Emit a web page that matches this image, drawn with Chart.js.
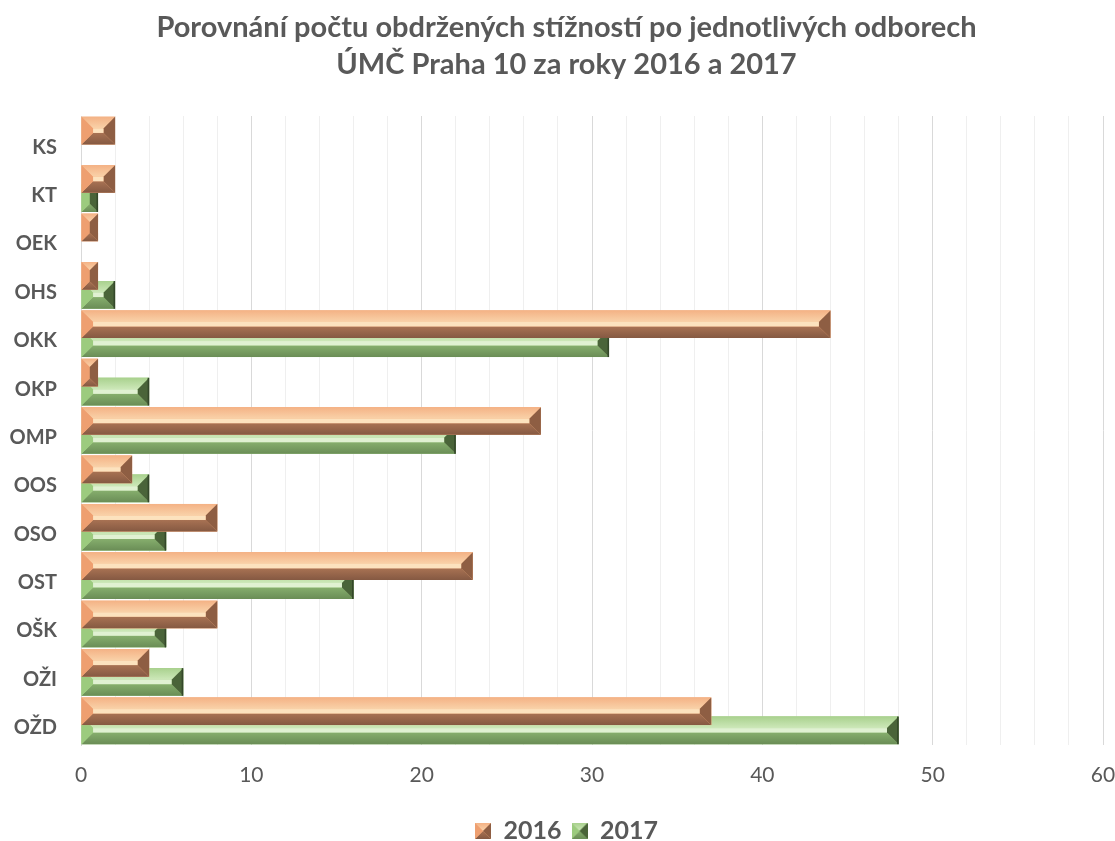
<!DOCTYPE html>
<html>
<head>
<meta charset="utf-8">
<title>Stížnosti po odborech 2016 a 2017</title>
<script src="https://cdn.jsdelivr.net/npm/chart.js@4.4.1/dist/chart.umd.min.js"></script>
<style>
  html, body { margin: 0; padding: 0; background: #ffffff; }
  #wrap { width: 1115px; height: 841px; }
</style>
</head>
<body>
<div id="wrap"><canvas id="chart" width="1115" height="841"></canvas></div>
<script>
// Departments (odbory) of ÚMČ Praha 10
const categories = ['KS', 'KT', 'OEK', 'OHS', 'OKK', 'OKP', 'OMP', 'OOS', 'OSO', 'OST', 'OŠK', 'OŽI', 'OŽD'];

// Number of complaints received per department
const values2016 = [2, 2, 1, 1, 44, 1, 27, 3, 8, 23, 8, 4, 37];
const values2017 = [0, 1, 0, 2, 31, 4, 22, 4, 5, 16, 5, 6, 48];

const seriesNames = ['2016', '2017'];
const titleLines = [
  'Porovnání počtu obdržených stížností po jednotlivých odborech',
  'ÚMČ Praha 10 za roky 2016 a 2017'
];

// Value axis: labelled every 10, light gridlines every 2
const axisMin = 0;
const axisMax = 60;
const majorStep = 10;
const minorStep = 2;

const TEXT = '#595959';
const FONT = 'Lato, "Open Sans", "DejaVu Sans", sans-serif';

// Bevel colours for each series (facets of a pyramid-cut bar)
const PALETTES = [
  { base: '#F4B183', top: ['#F4B285', '#F9D2A9'], ridge: '#FCE2BE',
    bottom: ['#A87253', '#855942'], left: '#EE9F70', right: '#8E5E43', edge: null },
  { base: '#A9D18E', top: ['#A9D18E', '#CDE8B9'], ridge: '#E0F1D2',
    bottom: ['#86AE6D', '#6A8D56'], left: '#9CCB7E', right: '#4A6439', edge: '#34472A' }
];

function poly(ctx, pts, fill) {
  ctx.beginPath();
  ctx.moveTo(pts[0][0], pts[0][1]);
  for (let i = 1; i < pts.length; i++) ctx.lineTo(pts[i][0], pts[i][1]);
  ctx.closePath();
  ctx.fillStyle = fill;
  ctx.fill();
}

// Paints a bevelled bar inside the rectangle [x0,x1] x [yt,yb]
function drawBevelBar(ctx, x0, x1, yt, yb, pal, depthRatio) {
  const w = x1 - x0, h = yb - yt;
  if (w < 0.5 || h < 0.5) return;
  const d = Math.min(h * depthRatio, w / 2);
  const xl = x0 + d, xr = x1 - d, it = yt + d, ib = yb - d;

  ctx.fillStyle = pal.base;
  ctx.fillRect(x0, yt, w, h);

  let g = ctx.createLinearGradient(0, yt, 0, it);
  g.addColorStop(0, pal.top[0]);
  g.addColorStop(1, pal.top[1]);
  poly(ctx, [[x0, yt], [x1, yt], [xr, it], [xl, it]], g);

  g = ctx.createLinearGradient(0, ib, 0, yb);
  g.addColorStop(0, pal.bottom[0]);
  g.addColorStop(1, pal.bottom[1]);
  poly(ctx, [[x0, yb], [x1, yb], [xr, ib], [xl, ib]], g);

  poly(ctx, [[x0, yt], [xl, it], [xl, ib], [x0, yb]], pal.left);
  poly(ctx, [[x1, yt], [xr, it], [xr, ib], [x1, yb]], pal.right);

  if (xr > xl && ib > it) {
    ctx.fillStyle = pal.ridge;
    ctx.fillRect(xl, it, xr - xl, ib - it);
  }
  if (pal.edge) {
    ctx.fillStyle = pal.edge;
    ctx.fillRect(x1 - 1.5, yt, 1.5, h);
  }
}

// Overlays the bevel on every bar element once its dataset has been drawn
const bevelPlugin = {
  id: 'bevelBars',
  afterDatasetDraw(chart, args) {
    const ctx = chart.ctx;
    const pal = PALETTES[args.index];
    ctx.save();
    args.meta.data.forEach(el => {
      const p = el.getProps(['x', 'y', 'base', 'height'], true);
      const x0 = Math.min(p.base, p.x);
      const x1 = Math.max(p.base, p.x);
      drawBevelBar(ctx, x0, x1, p.y - p.height / 2, p.y + p.height / 2, pal, 0.42);
    });
    ctx.restore();
  }
};

// Small bevelled squares used as legend markers
function legendIcon(pal) {
  const c = document.createElement('canvas');
  c.width = 16; c.height = 16;
  drawBevelBar(c.getContext('2d'), 0, 16, 0, 16, Object.assign({}, pal, { edge: null }), 0.5);
  return c;
}

function build() {
  const icons = PALETTES.map(legendIcon);

  new Chart(document.getElementById('chart'), {
    type: 'bar',
    data: {
      labels: categories,
      datasets: [
        { label: seriesNames[0], data: values2016, backgroundColor: PALETTES[0].base,
          borderWidth: 0, categoryPercentage: 0.787, barPercentage: 1.45 },
        { label: seriesNames[1], data: values2017, backgroundColor: PALETTES[1].base,
          borderWidth: 0, categoryPercentage: 0.787, barPercentage: 1.45 }
      ]
    },
    options: {
      indexAxis: 'y',
      responsive: false,
      animation: false,
      devicePixelRatio: 1,
      layout: { padding: { left: 0, right: -18, top: 0, bottom: -12.5 } },
      plugins: {
        title: {
          display: true,
          text: titleLines,
          color: TEXT,
          font: { family: FONT, size: 29, weight: 'bold', lineHeight: '37px' },
          padding: { top: 9.5, bottom: 32.5 }
        },
        legend: {
          position: 'bottom',
          labels: {
            usePointStyle: true,
            boxWidth: 16,
            boxHeight: 16,
            padding: 10,
            color: TEXT,
            font: { family: FONT, size: 25, weight: 'bold' },
            generateLabels(chart) {
              const items = Chart.defaults.plugins.legend.labels.generateLabels(chart);
              items.forEach((it, i) => { it.pointStyle = icons[i]; });
              return items;
            }
          }
        },
        tooltip: { enabled: false }
      },
      scales: {
        x: {
          type: 'linear',
          position: 'bottom',
          min: axisMin,
          max: axisMax,
          grid: {
            drawTicks: false,
            lineWidth: 1,
            color: c => (c.tick && c.tick.value % majorStep === 0) ? '#D9D9D9' : '#EFEFEF'
          },
          border: { display: false },
          ticks: {
            stepSize: minorStep,
            autoSkip: false,
            maxRotation: 0,
            padding: 18,
            color: TEXT,
            font: { family: FONT, size: 21 },
            callback: v => (v % majorStep === 0 ? String(v) : '')
          },
          afterFit(scale) {
            scale.height = 63.5;
            scale.paddingRight = 12;
            scale.paddingLeft = 6;
          }
        },
        y: {
          type: 'category',
          grid: { display: false, drawTicks: false },
          border: { display: true, color: '#D9D9D9', width: 1 },
          ticks: {
            autoSkip: false,
            padding: 24,
            labelOffset: 7,
            color: TEXT,
            font: { family: FONT, size: 20, weight: 'bold' }
          },
          afterFit(scale) { scale.width = 81; }
        }
      }
    },
    plugins: [bevelPlugin]
  });
}

if (document.fonts && document.fonts.load) {
  Promise.all([
    document.fonts.load('bold 20px Lato'),
    document.fonts.load('20px Lato')
  ]).then(build, build);
} else {
  build();
}
</script>
</body>
</html>
